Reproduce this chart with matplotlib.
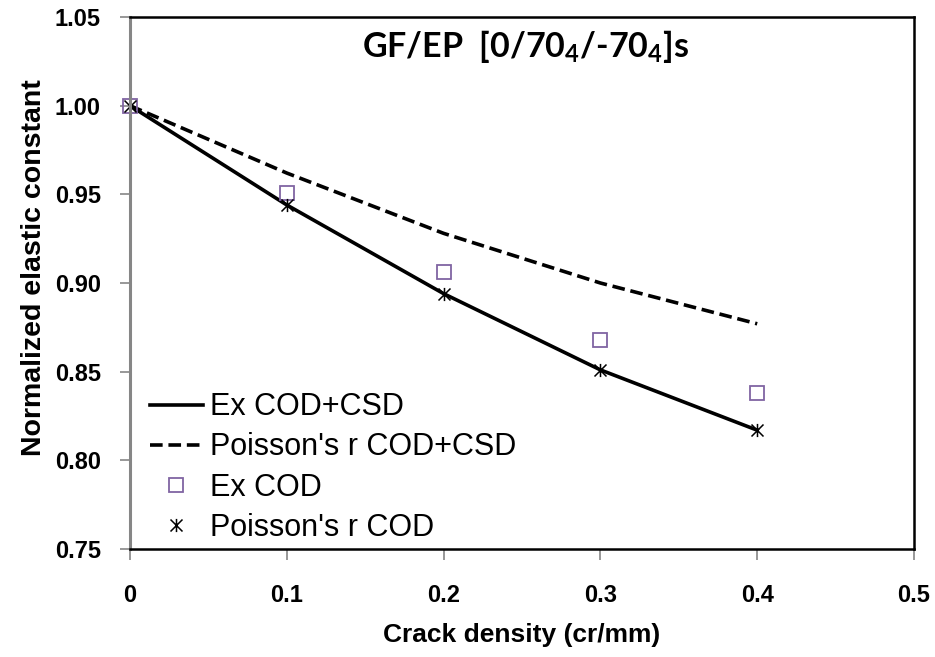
import matplotlib
matplotlib.use("Agg")
import matplotlib.pyplot as plt
from matplotlib.path import Path

# crack density (cr/mm)
crack_density = [0.0, 0.1, 0.2, 0.3, 0.4]

# normalized elastic constants
ex_cod_csd = [1.0, 0.944, 0.894, 0.851, 0.817]
nu_cod_csd = [1.0, 0.962, 0.928, 0.900, 0.877]
ex_cod = [1.0, 0.951, 0.906, 0.868, 0.838]
nu_cod = [1.0, 0.944, 0.894, 0.851, 0.817]

x_ticks = [0, 0.1, 0.2, 0.3, 0.4, 0.5]
x_tick_labels = ['0', '0.1', '0.2', '0.3', '0.4', '0.5']
y_ticks = [0.75, 0.80, 0.85, 0.90, 0.95, 1.00, 1.05]

plt.rcParams['mathtext.fontset'] = 'custom'
plt.rcParams['mathtext.rm'] = 'Lato:bold'
plt.rcParams['mathtext.it'] = 'Lato:bold'
plt.rcParams['mathtext.bf'] = 'Lato:bold'
plt.rcParams['mathtext.default'] = 'rm'

# Excel style star: an x with a vertical bar through it
star = Path([(-1, -1), (1, 1), (-1, 1), (1, -1), (0, -1.1), (0, 1.1)],
            [Path.MOVETO, Path.LINETO, Path.MOVETO, Path.LINETO,
             Path.MOVETO, Path.LINETO])

fig = plt.figure(figsize=(9.35, 6.57), dpi=100)
ax = fig.add_axes([130 / 935, 1 - 549 / 657, 784 / 935, 532 / 657])

ax.plot(crack_density, ex_cod_csd, color='black', lw=2.6,
        label='Ex COD+CSD')
ax.plot(crack_density, nu_cod_csd, color='black', lw=2.6,
        dashes=(3.5, 1.6), label="Poisson's r COD+CSD")
ax.plot(crack_density, ex_cod, ls='none', marker='s', ms=9.5,
        mfc='none', mec='#8064A2', mew=1.3, clip_on=False,
        label='Ex COD')
ax.plot(crack_density, nu_cod, ls='none', marker=star, ms=9.5,
        color='black', mew=1.1, clip_on=False,
        label="Poisson's r COD")

ax.set_xlim(0, 0.5)
ax.set_ylim(0.75, 1.05)
ax.set_xticks(x_ticks)
ax.set_xticklabels(x_tick_labels)
ax.set_yticks(y_ticks)
ax.set_yticklabels(['%.2f' % v for v in y_ticks])

for lab in ax.get_xticklabels() + ax.get_yticklabels():
    lab.set_family('Liberation Sans')
    lab.set_fontweight('bold')
    lab.set_fontsize(17)

ax.tick_params(axis='x', direction='out', length=8, width=1.2,
               color='#868686', pad=17)
ax.tick_params(axis='y', direction='out', length=7, width=1.2,
               color='#868686', pad=14)

for side in ['top', 'right', 'bottom']:
    ax.spines[side].set_color('black')
    ax.spines[side].set_linewidth(1.8)
ax.spines['left'].set_color('#868686')
ax.spines['left'].set_linewidth(2.2)

ax.set_xlabel('Crack density (cr/mm)', family='Liberation Sans',
              fontweight='bold', fontsize=19, labelpad=12)
ax.set_ylabel('Normalized elastic constant', family='Liberation Sans',
              fontweight='bold', fontsize=20.5)
ax.yaxis.set_label_coords(-0.106, 0.528)

ax.text(0.504, 0.944, 'GF/EP  [0/70$_4$/-70$_4$]s', transform=ax.transAxes,
        ha='center', va='center', family='Lato', fontweight='bold',
        fontsize=24.5)

leg = ax.legend(loc='lower left', bbox_to_anchor=(0.0255, 0.012),
                frameon=False,
                prop={'family': 'Liberation Sans', 'size': 22},
                handlelength=1.73, handletextpad=0.23, labelspacing=0.33,
                borderaxespad=0, borderpad=0)

fig.savefig('out.png', dpi=100)
